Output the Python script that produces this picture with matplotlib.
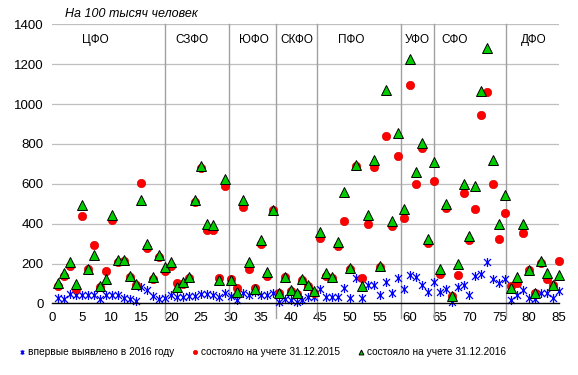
import matplotlib
matplotlib.use('Agg')
import matplotlib.pyplot as plt
from matplotlib.path import Path

plt.rcParams['font.family'] = ['Liberation Sans', 'DejaVu Sans']

regions = list(range(1, 86))

new_2016 = [28, 20, 45, 42, 42, 42, 40, 20, 40, 40, 42, 25, 20, 10, 80, 65, 35, 20, 28, 42,
            33, 33, 37, 37, 47, 47, 42, 30, 50, 37, 17, 53, 42, 58, 42, 42, 50, 8, 20, 17,
            8, 17, 30, 33, 70, 33, 33, 33, 75, 25, 125, 25, 92, 92, 42, 108, 50, 125, 72, 142,
            134, 92, 58, 108, 58, 70, 5, 83, 92, 42, 135, 147, 209, 120, 100, 120, 17, 42, 67, 28,
            22, 50, 50, 25, 63]

reg_2015 = [85, 137, 187, 73, 437, 173, 292, 83, 163, 420, 207, 212, 130, 92, 604, 280, 120, 233, 163, 187,
            100, 97, 125, 508, 680, 367, 367, 125, 590, 120, 75, 484, 173, 75, 298, 135, 470, 50, 132, 63,
            45, 117, 85, 53, 330, 137, 125, 287, 412, 170, 687, 128, 400, 685, 183, 841, 388, 741, 429, 1095,
            600, 778, 304, 614, 147, 479, 37, 142, 553, 317, 472, 945, 1062, 597, 324, 451, 85, 102, 355, 167,
            53, 205, 124, 91, 215]

reg_2016 = [100, 150, 207, 97, 492, 173, 242, 87, 120, 445, 220, 217, 138, 97, 518, 300, 130, 242, 183, 208,
            80, 107, 133, 517, 690, 400, 395, 119, 626, 118, 58, 521, 206, 70, 319, 158, 470, 50, 134, 68,
            53, 120, 93, 63, 358, 150, 130, 308, 558, 178, 695, 87, 442, 720, 187, 1070, 415, 853, 476, 1226,
            659, 803, 322, 709, 175, 500, 37, 200, 597, 337, 587, 1067, 1279, 719, 396, 546, 78, 133, 396, 167,
            53, 213, 152, 94, 143]

districts = ['ЦФО', 'СЗФО', 'ЮФО', 'СКФО', 'ПФО', 'УФО', 'СФО', 'ДФО']
district_label_x = [7.3, 23.4, 33.8, 41.1, 50.2, 61.2, 67.5, 80.7]
separators = [18.9, 29.7, 37.5, 44.4, 58.5, 64.1, 76.2]

# excel-like "star" marker: X with a vertical bar
star = Path([(-1, -1), (1, 1), (-1, 1), (1, -1), (0, -1.3), (0, 1.3)],
            [Path.MOVETO, Path.LINETO, Path.MOVETO, Path.LINETO, Path.MOVETO, Path.LINETO])

fig = plt.figure(figsize=(5.78, 3.75), dpi=100)
ax = fig.add_axes([0.090, 0.191, 0.877, 0.744])

ax.plot(regions, new_2016, linestyle='none', marker=star, markersize=6.5,
        markerfacecolor='none', markeredgecolor='#0000FF', markeredgewidth=0.9,
        label='впервые выявлено в 2016 году', zorder=3, clip_on=False)
ax.plot(regions, reg_2015, linestyle='none', marker='o', markersize=6,
        markerfacecolor='#FF0000', markeredgecolor='#E00000', markeredgewidth=0.5,
        label='состояло на учете 31.12.2015', zorder=4, clip_on=False)
ax.plot(regions, reg_2016, linestyle='none', marker='^', markersize=7,
        markerfacecolor='#00CC00', markeredgecolor='black', markeredgewidth=0.7,
        label='состояло на учете 31.12.2016', zorder=5, clip_on=False)

ax.set_xlim(0, 85)
ax.set_ylim(0, 1400)
ax.set_xticks(range(0, 86, 5))
ax.set_yticks(range(0, 1401, 200))
ax.tick_params(length=0, labelsize=9.5, pad=6)
ax.grid(axis='y', color='#BFBFBF', linewidth=0.9)
ax.set_axisbelow(True)
for s in ['top', 'right', 'left']:
    ax.spines[s].set_visible(False)
ax.spines['bottom'].set_color('black')
ax.spines['bottom'].set_linewidth(1.0)
ax.spines['bottom'].set_zorder(6)

for sx in separators:
    ax.plot([sx, sx], [-75, 1400], color='#A0A0A0', linewidth=1.0, clip_on=False, zorder=1)

for name, lx in zip(districts, district_label_x):
    ax.text(lx, 1320, name, ha='center', va='center', fontsize=8.5)

fig.text(0.112, 0.962, 'На 100 тысяч человек', fontsize=9, style='italic', ha='left', va='center')

fig.legend(loc='center', bbox_to_anchor=(0.455, 0.061), ncol=3, frameon=False,
           fontsize=7.3, markerscale=0.5, handlelength=0.4, handletextpad=0.35,
           columnspacing=1.9)

fig.savefig('out.png', dpi=100)
